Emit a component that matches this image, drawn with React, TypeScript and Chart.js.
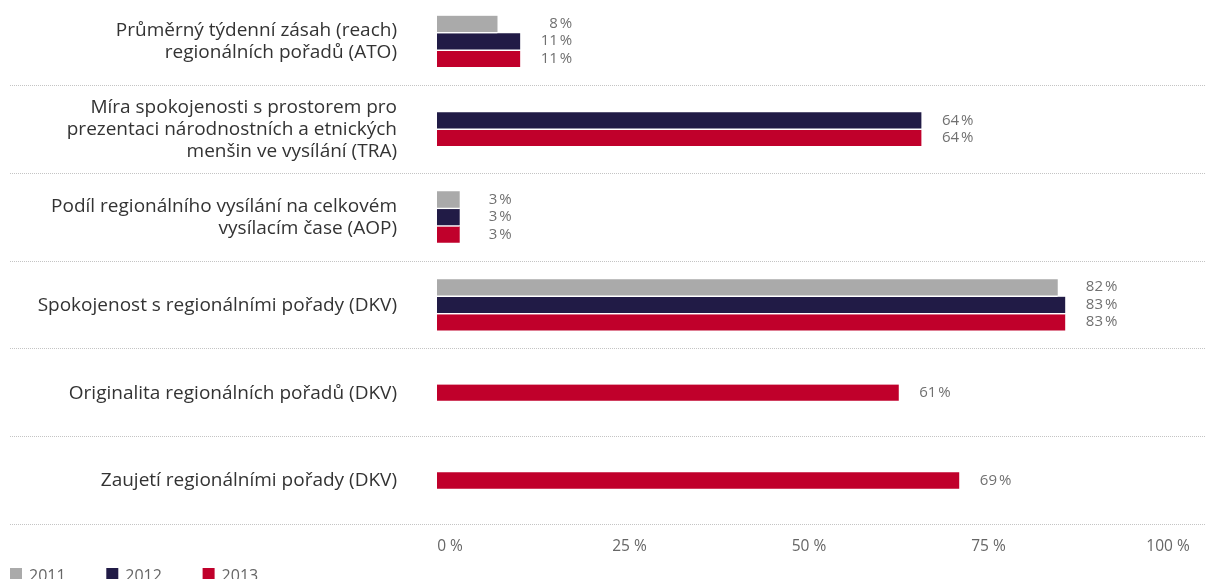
import React, { useEffect, useRef } from "react";
import { Chart, registerables } from "chart.js";

Chart.register(...registerables);

const categories: string[][] = [
  ["Průměrný týdenní zásah (reach)", "regionálních pořadů (ATO)"],
  ["Míra spokojenosti s prostorem pro", "prezentaci národnostních a etnických", "menšin ve vysílání (TRA)"],
  ["Podíl regionálního vysílání na celkovém", "vysílacím čase (AOP)"],
  ["Spokojenost s regionálními pořady (DKV)"],
  ["Originalita regionálních pořadů (DKV)"],
  ["Zaujetí regionálními pořady (DKV)"],
];
const series2011: (number | null)[] = [8, null, 3, 82, null, null];
const series2012: (number | null)[] = [11, 64, 3, 83, null, null];
const series2013: (number | null)[] = [11, 64, 3, 83, 61, 69];
const seriesLabels = ["2011", "2012", "2013"];
const seriesColors = ["#aaaaaa", "#211b46", "#c0002b"];
const xTickValues = [0, 25, 50, 75, 100];

const FONT = "'Open Sans', 'Noto Sans', sans-serif";

const separatorPlugin = {
  id: "separators",
  beforeDatasetsDraw(chart: any) {
    const { ctx } = chart;
    const y = chart.scales.y;
    const n = categories.length;
    const band = (y.bottom - y.top) / n;
    ctx.save();
    ctx.strokeStyle = "#c4c4c4";
    ctx.lineWidth = 1;
    ctx.setLineDash([1, 1]);
    for (let i = 1; i <= n; i++) {
      const yy = Math.round(y.top + band * i) - 0.5;
      ctx.beginPath();
      ctx.moveTo(10, yy);
      ctx.lineTo(chart.width, yy);
      ctx.stroke();
    }
    ctx.restore();
  },
};

const valueLabelPlugin = {
  id: "valueLabels",
  afterDatasetsDraw(chart: any) {
    const { ctx } = chart;
    const xs = chart.scales.x;
    ctx.save();
    ctx.font = `15px ${FONT}`;
    ctx.fillStyle = "#707070";
    ctx.textAlign = "right";
    ctx.textBaseline = "middle";
    categories.forEach((_, i) => {
      const vals = chart.data.datasets
        .map((d: any) => d.data[i])
        .filter((v: any) => v !== null && v !== undefined);
      if (!vals.length) return;
      const maxV = Math.max(...vals);
      const xr = xs.getPixelForValue(maxV) + 52;
      chart.data.datasets.forEach((ds: any, di: number) => {
        const v = ds.data[i];
        if (v === null || v === undefined) return;
        const el = chart.getDatasetMeta(di).data[i];
        ctx.fillText(`${v}\u202F%`, xr, el.y - 0.75);
      });
    });
    ctx.restore();
  },
};

const legendPlugin = {
  id: "customLegend",
  afterDraw(chart: any) {
    const { ctx } = chart;
    ctx.save();
    ctx.font = `16px ${FONT}`;
    ctx.textAlign = "left";
    ctx.textBaseline = "alphabetic";
    seriesLabels.forEach((lab, i) => {
      const x = 10 + i * 96.3;
      ctx.fillStyle = seriesColors[i];
      ctx.fillRect(x, 570, 12, 12);
      ctx.fillStyle = "#666666";
      ctx.fillText(lab, x + 19, 583);
    });
    ctx.restore();
  },
};

export default function App() {
  const ref = useRef<HTMLCanvasElement | null>(null);

  useEffect(() => {
    document.body.style.margin = "0";
    document.body.style.overflow = "hidden";
    document.documentElement.style.overflow = "hidden";
    if (!ref.current) return;
    const seriesData = [series2011, series2012, series2013];
    const chart = new Chart(ref.current, {
      type: "bar",
      data: {
        labels: categories,
        datasets: seriesData.map((d, i) => ({
          label: seriesLabels[i],
          data: d,
          backgroundColor: seriesColors[i],
          borderColor: "#ffffff",
          borderWidth: { top: 0, right: 0, bottom: 1.5, left: 0 },
          borderSkipped: false,
          barThickness: 17.5,
          skipNull: true,
        })) as any,
      },
      options: {
        indexAxis: "y",
        responsive: true,
        maintainAspectRatio: false,
        animation: false,
        layout: { padding: { left: 0, right: 12, top: 0, bottom: 43 } },
        plugins: {
          legend: { display: false },
          tooltip: { enabled: false },
        },
        scales: {
          x: {
            type: "linear",
            min: 0,
            max: 100,
            display: false,
          },
          x2: {
            type: "linear",
            axis: "x",
            position: "bottom",
            min: -1.81,
            max: 103.62,
            afterBuildTicks: (axis: any) => {
              axis.ticks = xTickValues.map((v) => ({ value: v }));
            },
            afterFit: (axis: any) => {
              axis.height = 30;
              axis.paddingLeft = 0;
              axis.paddingRight = 0;
            },
            grid: { display: false, drawTicks: false },
            border: { display: false },
            ticks: {
              padding: 12,
              color: "#666666",
              font: { family: FONT, size: 15.5 },
              callback: (v: any) => `${v} %`,
              maxRotation: 0,
              autoSkip: false,
            },
          },
          y: {
            type: "category",
            afterFit: (axis: any) => {
              axis.width = 437;
              axis.paddingTop = 0;
              axis.paddingBottom = 0;
            },
            grid: { display: false, drawTicks: false },
            border: { display: false },
            ticks: {
              padding: 40,
              color: "#333333",
              font: { family: FONT, size: 19, lineHeight: 1.15 },
              autoSkip: false,
            },
          },
        } as any,
      },
      plugins: [separatorPlugin, valueLabelPlugin, legendPlugin],
    });
    return () => chart.destroy();
  }, []);

  return (
    <div style={{ position: "absolute", left: 0, top: -2, width: 1206, height: 600 }}>
      <canvas ref={ref} />
    </div>
  );
}
